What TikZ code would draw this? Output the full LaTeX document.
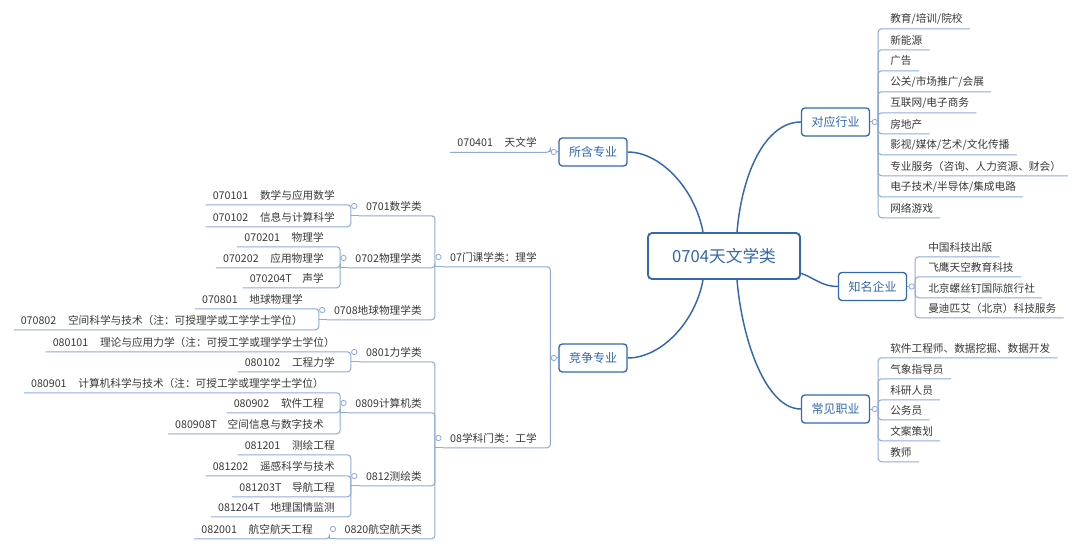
\documentclass[tikz,border=0pt]{standalone}
\usepackage{fontspec}
\usepackage{tikz}
\newfontfamily\cjkfont{Noto Sans CJK SC}
\definecolor{MapBlue}{HTML}{3468AE}
\definecolor{LinkBlue}{HTML}{8EABD8}
\definecolor{Ink}{HTML}{383838}
\newcommand{\codegap}{\hspace{1.1em}}

\begin{document}
\begin{tikzpicture}[x=0.75pt,y=-0.75pt,
  every node/.style={font=\cjkfont},
  root/.style={rectangle,rounded corners=3pt,draw=MapBlue,line width=1.4pt,fill=white,text=MapBlue,
    font=\cjkfont\fontsize{12.5}{15}\selectfont,minimum width=114pt,minimum height=34.5pt},
  topic/.style={rectangle,rounded corners=2.5pt,draw=MapBlue,line width=1pt,fill=white,text=MapBlue,
    font=\cjkfont\fontsize{9}{11}\selectfont,minimum width=51pt,minimum height=21pt},
  leaf/.style={inner xsep=5.25pt,inner ysep=0pt,minimum height=14.25pt,text=Ink,
    font=\cjkfont\fontsize{8}{10}\selectfont},
  knob/.style={circle,draw=LinkBlue,fill=white,line width=0.6pt,inner sep=0pt,minimum size=4pt},
  link/.style={draw=LinkBlue,line width=0.75pt,rounded corners=2.5pt},
  curve/.style={draw=MapBlue,line width=1.1pt}
]
\fill[white] (0,0) rectangle (1080,548);
\useasboundingbox (0,0) rectangle (1080,548);

% centre and main topics
\node[root] (root) at (724,256) {0704天文学类};
\node[topic] (suohan) at (593,152) {所含专业};
\node[topic] (jingzheng) at (593,358) {竞争专业};
\node[topic] (hangye) at (835.5,122) {对应行业};
\node[topic] (qiye) at (872.5,286.5) {知名企业};
\node[topic] (zhiye) at (835.5,409) {常见职业};

% left side
\node[leaf,anchor=east] (s1) at (544,142.5) {070401\codegap 天文学};
\node[leaf,anchor=east] (m07) at (544,257) {07门课学类：理学};
\node[leaf,anchor=east] (m08) at (544,438) {08学科门类：工学};

\node[leaf,anchor=east] (m0701) at (429,206) {0701数学类};
\node[leaf,anchor=east] (m0702) at (429,258) {0702物理学类};
\node[leaf,anchor=east] (m0708) at (429,310) {0708地球物理学类};
\node[leaf,anchor=east] (m0801) at (429,352) {0801力学类};
\node[leaf,anchor=east] (m0809) at (429,403) {0809计算机类};
\node[leaf,anchor=east] (m0812) at (429,476) {0812测绘类};
\node[leaf,anchor=east] (m0820) at (429,529) {0820航空航天类};

\node[leaf,anchor=east] (a1) at (342,195) {070101\codegap 数学与应用数学};
\node[leaf,anchor=east] (a2) at (342,217) {070102\codegap 信息与计算科学};
\node[leaf,anchor=east] (b1) at (331,237) {070201\codegap 物理学};
\node[leaf,anchor=east] (b2) at (331,258) {070202\codegap 应用物理学};
\node[leaf,anchor=east] (b3) at (331,278) {070204T\quad 声学};
\node[leaf,anchor=east] (c1) at (310,299) {070801\codegap 地球物理学};
\node[leaf,anchor=east] (c2) at (310,320) {070802\codegap 空间科学与技术（注：可授理学或工学学士学位）};
\node[leaf,anchor=east] (d1) at (342,342) {080101\codegap 理论与应用力学（注：可授工学或理学学士学位）};
\node[leaf,anchor=east] (d2) at (342,362) {080102\codegap 工程力学};
\node[leaf,anchor=east] (e1) at (331,383) {080901\codegap 计算机科学与技术（注：可授工学或理学学士学位）};
\node[leaf,anchor=east] (e2) at (331,403) {080902\codegap 软件工程};
\node[leaf,anchor=east] (e3) at (331,424) {080908T\quad 空间信息与数字技术};
\node[leaf,anchor=east] (f1) at (342,445) {081201\codegap 测绘工程};
\node[leaf,anchor=east] (f2) at (342,466) {081202\codegap 遥感科学与技术};
\node[leaf,anchor=east] (f3) at (342,487) {081203T\quad 导航工程};
\node[leaf,anchor=east] (f4) at (342,507) {081204T\quad 地理国情监测};
\node[leaf,anchor=east] (g1) at (320,529) {082001\codegap 航空航天工程};

% right side
\node[leaf,anchor=west] (h1) at (883,19) {教育/培训/院校};
\node[leaf,anchor=west] (h2) at (883,40) {新能源};
\node[leaf,anchor=west] (h3) at (883,61) {广告};
\node[leaf,anchor=west] (h4) at (883,82) {公关/市场推广/会展};
\node[leaf,anchor=west] (h5) at (883,103) {互联网/电子商务};
\node[leaf,anchor=west] (h6) at (883,124) {房地产};
\node[leaf,anchor=west] (h7) at (883,145) {影视/媒体/艺术/文化传播};
\node[leaf,anchor=west] (h8) at (883,166) {专业服务（咨询、人力资源、财会）};
\node[leaf,anchor=west] (h9) at (883,187) {电子技术/半导体/集成电路};
\node[leaf,anchor=west] (h10) at (883,208) {网络游戏};

\node[leaf,anchor=west] (q1) at (921,247) {中国科技出版};
\node[leaf,anchor=west] (q2) at (921,267) {飞鹰天空教育科技};
\node[leaf,anchor=west] (q3) at (921,288) {北京螺丝钉国际旅行社};
\node[leaf,anchor=west] (q4) at (921,308) {曼迪匹艾（北京）科技服务};

\node[leaf,anchor=west] (j1) at (883,348) {软件工程师、数据挖掘、数据开发};
\node[leaf,anchor=west] (j2) at (883,369) {气象指导员};
\node[leaf,anchor=west] (j3) at (883,390) {科研人员};
\node[leaf,anchor=west] (j4) at (883,410) {公务员};
\node[leaf,anchor=west] (j5) at (883,431) {文案策划};
\node[leaf,anchor=west] (j6) at (883,452) {教师};

% curved branches
\draw[curve] ([xshift=-15.75pt]root.north) .. controls +(-8,-43) and +(33,0) .. (suohan.east);
\draw[curve] ([xshift=-15.75pt]root.south) .. controls +(-8,43) and +(33,0) .. (jingzheng.east);
\draw[curve] ([xshift=9.75pt]root.north) .. controls +(5,-60) and +(-35,0) .. (hangye.west);
\draw[curve] ([xshift=9.75pt]root.south) .. controls +(5,60) and +(-35,0) .. (zhiye.west);
\draw[curve] ([yshift=5pt]root.south east) .. controls +(14,5) and +(-16,0) .. (qiye.west);

% brackets, left
\draw[link] (suohan.west) -- ++(-6pt,0);
\draw[link] ([xshift=-6pt]suohan.west) |- (s1.south west);
\draw[link] (jingzheng.west) -- ++(-6pt,0);
\foreach \c in {m07,m08}
  \draw[link] ([xshift=-6pt]jingzheng.west) |- (\c.south west);
\draw[link] (m07.south west) -- ++(-6pt,0);
\foreach \c in {m0701,m0702,m0708}
  \draw[link] ([xshift=-6pt]m07.south west) |- (\c.south west);
\draw[link] (m08.south west) -- ++(-6pt,0);
\foreach \c in {m0801,m0809,m0812,m0820}
  \draw[link] ([xshift=-6pt]m08.south west) |- (\c.south west);
\foreach \p/\kids in {m0701/{a1,a2},m0702/{b1,b2,b3},m0708/{c1,c2},m0801/{d1,d2},
    m0809/{e1,e2,e3},m0812/{f1,f2,f3,f4},m0820/{g1}} {
  \draw[link] (\p.south west) -- ++(-6pt,0);
  \foreach \c in \kids
    \draw[link] ([xshift=-6pt]\p.south west) |- (\c.south west);
}

% brackets, right
\foreach \p/\kids in {hangye/{h1,h2,h3,h4,h5,h6,h7,h8,h9,h10},qiye/{q1,q2,q3,q4},
    zhiye/{j1,j2,j3,j4,j5,j6}} {
  \draw[link] (\p.east) -- ++(6pt,0);
  \foreach \c in \kids
    \draw[link] ([xshift=6pt]\p.east) |- (\c.south east);
}

% collapse knobs
\foreach \p in {suohan,jingzheng,m07,m08,m0701,m0702,m0708,m0801,m0809,m0812,m0820}
  \node[knob] (k\p) at ([xshift=-3.4pt]\p.west) {};
\foreach \p in {hangye,qiye,zhiye}
  \node[knob] (k\p) at ([xshift=3.4pt]\p.east) {};
\end{tikzpicture}
\end{document}
